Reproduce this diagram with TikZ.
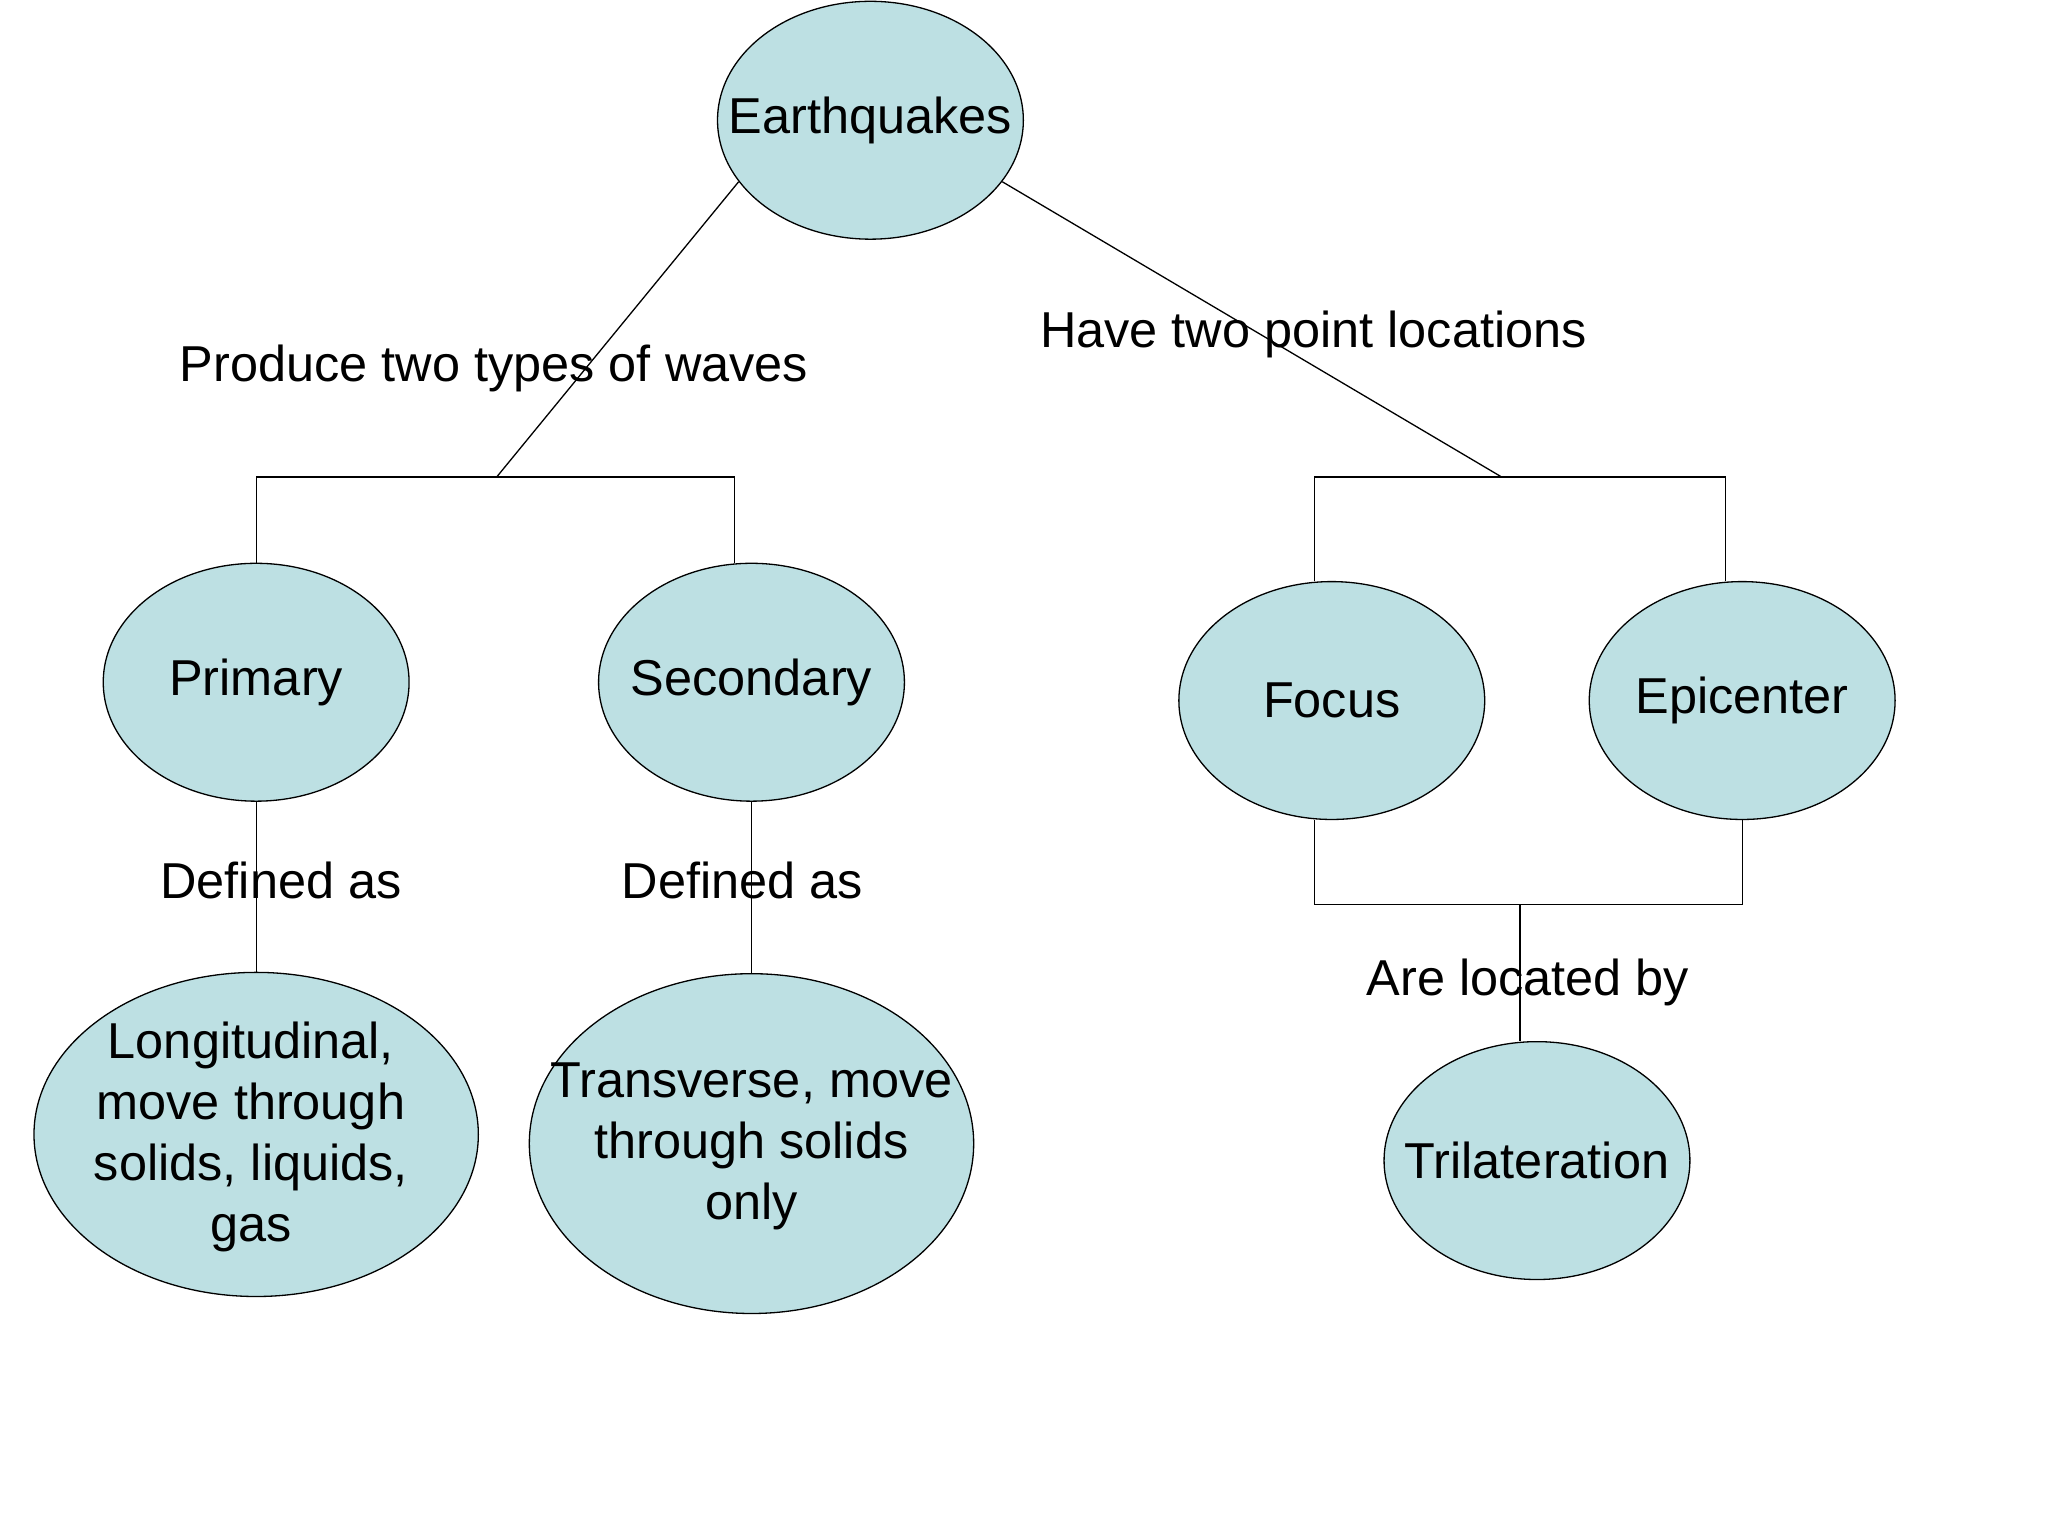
\documentclass[tikz,border=0pt]{standalone}
\usepackage{fontspec}
\setmainfont{Liberation Sans}
\usetikzlibrary{shapes.geometric}
\definecolor{bub}{HTML}{BDE0E3}
\begin{document}
\begin{tikzpicture}[x=1pt,y=-1pt,
  bubble/.style={ellipse,draw=black,fill=bub,line width=1pt,inner sep=0pt},
  txt/.style={align=center,font=\fontsize{38.6}{46.5}\selectfont,inner sep=0pt},
  lbl/.style={font=\fontsize{38.6}{46.5}\selectfont},
  ln/.style={line width=1pt}]
\useasboundingbox[fill=white] (0,0) rectangle (1567,1175);
\node[bubble,minimum width=234,minimum height=182] (eq) at (666,92) {};
\node[bubble,minimum width=234,minimum height=182] (pr) at (196,522) {};
\node[bubble,minimum width=234,minimum height=182] (se) at (575,522) {};
\node[bubble,minimum width=234,minimum height=182] (fo) at (1019,536) {};
\node[bubble,minimum width=234,minimum height=182] (ep) at (1333,536) {};
\node[bubble,minimum width=340,minimum height=248] (lo) at (196,868) {};
\node[bubble,minimum width=340,minimum height=260] (tr) at (575,875) {};
\node[bubble,minimum width=234,minimum height=182] (tl) at (1176,888) {};
\node[txt] (eqt) at (eq) {Earthquakes};
\node[txt] (prt) at (pr) {Primary};
\node[txt] (set) at (se) {Secondary};
\node[txt] (fot) at (fo) {Focus};
\node[txt] (ept) at (ep) {Epicenter};
\node[txt] (lot) at (192,870) {Longitudinal,\\move through\\solids, liquids,\\gas};
\node[txt] (trt) at (575,877) {Transverse, move\\through solids\\only};
\node[txt] (tlt) at (tl) {Trilateration};
\coordinate (j1) at (380,365);
\coordinate (l1) at (196,365);
\coordinate (r1) at (562,365);
\coordinate (j2) at (1149,365);
\coordinate (l2) at (1006,365);
\coordinate (r2) at (1320,365);
\coordinate (l3) at (1006,692);
\coordinate (r3) at (1333,692);
\coordinate (j3) at (1163,692);
\draw[ln] (eq.205) -- (j1);
\draw[ln] (eq.-25) -- (j2);
\draw[ln] (l1|-pr.north) -- (l1) -- (r1) -- (r1|-se.north);
\draw[ln] (l2|-fo.north) -- (l2) -- (r2) -- (r2|-ep.north);
\draw[ln] (pr.south) -- (lo.north);
\draw[ln] (se.south) -- (tr.north);
\draw[ln] (l3|-fo.south) -- (l3) -- (r3) -- (ep.south);
\draw[ln] (j3) -- (j3|-tl.north);
\node[lbl] (t1) at (378,282) {Produce two types of waves};
\node[lbl] (t2) at (1005,256) {Have two point locations};
\node[lbl] (t3) at (215,674) {Defined as};
\node[lbl] (t4) at (568,674) {Defined as};
\node[lbl] (t5) at (1169,752) {Are located by};
\end{tikzpicture}
\end{document}
